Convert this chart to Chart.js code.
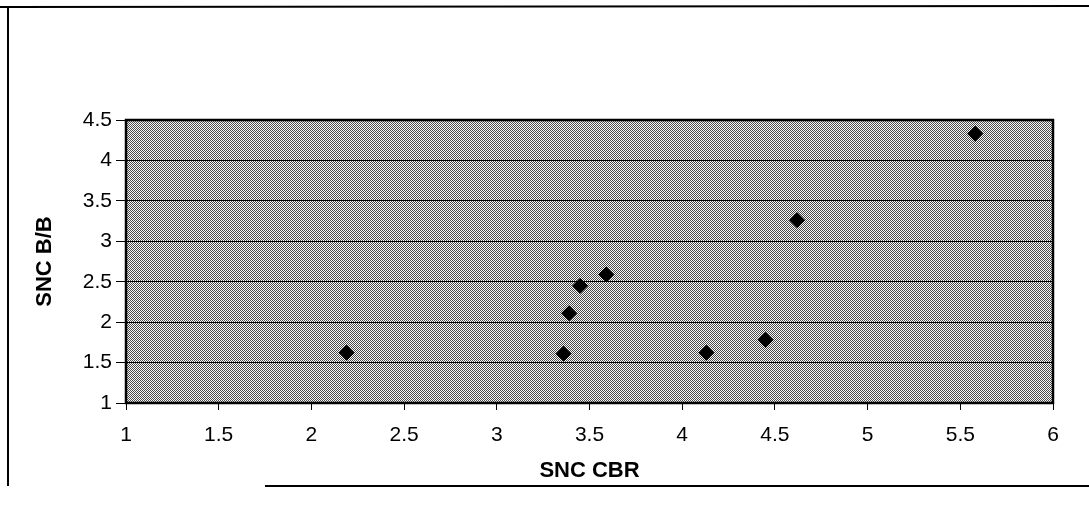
<!DOCTYPE html>
<html>
<head>
<meta charset="utf-8">
<script src="https://cdn.jsdelivr.net/npm/chart.js@4/dist/chart.umd.min.js"></script>
<style>
  html, body { margin: 0; padding: 0; background: #fff; }
  canvas { display: block; }
</style>
</head>
<body>
<canvas id="chart" width="1089" height="516"></canvas>
<script>
// SNC CBR (x) against SNC B/B (y)
const snc_cbr = [2.19, 3.36, 3.39, 3.45, 3.59, 4.13, 4.45, 4.62, 5.58];
const snc_bb  = [1.62, 1.61, 2.11, 2.45, 2.59, 1.62, 1.78, 3.26, 4.33];

const xTickValues = [1, 1.5, 2, 2.5, 3, 3.5, 4, 4.5, 5, 5.5, 6];
const yTickValues = [1, 1.5, 2, 2.5, 3, 3.5, 4, 4.5];

const xTitle = 'SNC CBR';
const yTitle = 'SNC B/B';

const FONT = '"Liberation Sans", Arial, Helvetica, sans-serif';

// halftone-like fill for the plotting area
function makeHalftone(ctx) {
  const c = document.createElement('canvas');
  c.width = 2; c.height = 2;
  const g = c.getContext('2d');
  g.fillStyle = '#fafafa'; g.fillRect(0, 0, 2, 2);
  g.fillStyle = '#4a4a4a';
  g.fillRect(0, 0, 1, 1);
  g.fillRect(1, 1, 1, 1);
  return ctx.createPattern(c, 'repeat');
}

const plotBackground = {
  id: 'plotBackground',
  beforeDraw(chart) {
    const { ctx, chartArea: a } = chart;
    ctx.save();
    ctx.fillStyle = '#fff';
    ctx.fillRect(0, 0, chart.width, chart.height);
    ctx.fillStyle = makeHalftone(ctx);
    ctx.fillRect(a.left, a.top, a.right - a.left, a.bottom - a.top);
    ctx.restore();
  },
  afterDraw(chart) {
    const { ctx, chartArea: a } = chart;
    ctx.save();
    // plot area outline
    ctx.strokeStyle = '#000';
    ctx.lineWidth = 2.5;
    ctx.strokeRect(a.left, a.top, a.right - a.left, a.bottom - a.top);
    // page frame around the figure
    ctx.lineWidth = 2;
    ctx.beginPath();
    ctx.moveTo(0, 7); ctx.lineTo(chart.width, 6);
    ctx.moveTo(8, 7); ctx.lineTo(8, 486);
    ctx.moveTo(265, 486); ctx.lineTo(chart.width, 486);
    ctx.stroke();
    ctx.restore();
  }
};

new Chart(document.getElementById('chart'), {
  type: 'scatter',
  data: {
    datasets: [{
      data: snc_cbr.map((x, i) => ({ x, y: snc_bb[i] })),
      pointStyle: 'rectRot',
      pointRadius: 7.5,
      pointHoverRadius: 7.5,
      backgroundColor: '#000',
      borderColor: '#000',
      borderWidth: 1
    }]
  },
  options: {
    responsive: false,
    animation: false,
    devicePixelRatio: 1,
    layout: { padding: { top: 120, right: 36, left: 0, bottom: 0 } },
    plugins: {
      legend: { display: false },
      tooltip: { enabled: false }
    },
    scales: {
      x: {
        type: 'linear',
        position: 'bottom',
        min: 1,
        max: 6,
        afterBuildTicks: s => { s.ticks = xTickValues.map(v => ({ value: v })); },
        afterFit: s => { s.height = 113; },
        ticks: {
          callback: v => String(v),
          color: '#000',
          font: { family: FONT, size: 21 },
          padding: 13,
          maxRotation: 0,
          autoSkip: false
        },
        grid: { drawOnChartArea: false, drawTicks: true, tickLength: 7, color: '#000', lineWidth: 1 },
        border: { display: false },
        title: {
          display: true,
          text: xTitle,
          color: '#000',
          font: { family: FONT, size: 22, weight: 'bold' },
          padding: { top: 0, bottom: 32 }
        }
      },
      y: {
        type: 'linear',
        min: 1,
        max: 4.5,
        afterBuildTicks: s => { s.ticks = yTickValues.map(v => ({ value: v })); },
        afterFit: s => { s.width = 126; },
        ticks: {
          callback: v => String(v),
          color: '#000',
          font: { family: FONT, size: 21 },
          padding: 4,
          autoSkip: false
        },
        grid: { drawOnChartArea: true, drawTicks: true, tickLength: 10, color: '#000', lineWidth: 1 },
        border: { display: false },
        title: {
          display: true,
          text: yTitle,
          color: '#000',
          font: { family: FONT, size: 22, weight: 'bold' },
          padding: { top: 32, bottom: 0 }
        }
      }
    }
  },
  plugins: [plotBackground]
});
</script>
</body>
</html>
